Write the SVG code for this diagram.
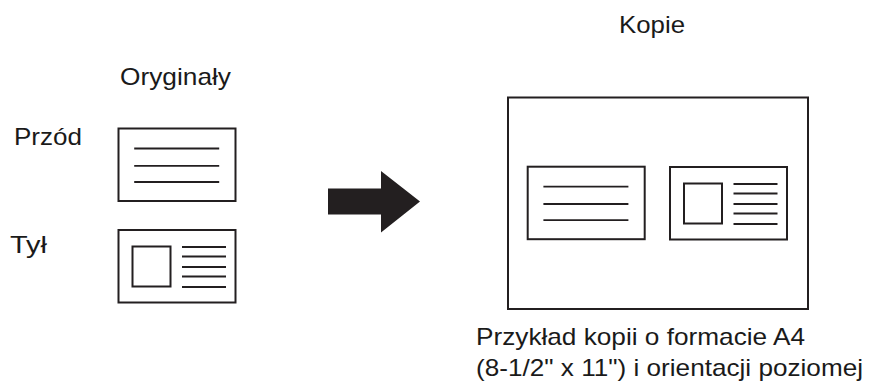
<svg xmlns="http://www.w3.org/2000/svg" xmlns:xlink="http://www.w3.org/1999/xlink" width="870" height="383" viewBox="0 0 870 383">
  <style>
    .lbl { font-family: "Liberation Sans", Arial, Helvetica, sans-serif; font-size: 24px; fill: #1a1a1a; }
    .box { fill: #ffffff; stroke: #231f20; stroke-width: 2; }
    .ln { stroke: #231f20; stroke-width: 1.8; fill: none; }
  </style>
  <defs>
    <g id="cardFront">
      <rect class="box" x="0" y="0" width="117" height="72.5"/>
      <line class="ln" x1="15.7" y1="20" x2="100.7" y2="20"/>
      <line class="ln" x1="15.7" y1="37.3" x2="100.7" y2="37.3"/>
      <line class="ln" x1="15.7" y1="53.5" x2="100.7" y2="53.5"/>
    </g>
    <g id="cardBack">
      <rect class="box" x="0" y="0" width="117" height="72.5"/>
      <rect class="box" x="14" y="16.5" width="38" height="40"/>
      <line class="ln" x1="63.5" y1="17" x2="107.5" y2="17"/>
      <line class="ln" x1="63.5" y1="26.5" x2="107.5" y2="26.5"/>
      <line class="ln" x1="63.5" y1="37" x2="107.5" y2="37"/>
      <line class="ln" x1="63.5" y1="46.5" x2="107.5" y2="46.5"/>
      <line class="ln" x1="63.5" y1="57" x2="107.5" y2="57"/>
    </g>
  </defs>

  <g id="label-originals"><text class="lbl" x="120" y="85" textLength="111" lengthAdjust="spacingAndGlyphs">Oryginały</text></g>
  <g id="label-front"><text class="lbl" x="14" y="145" textLength="68" lengthAdjust="spacingAndGlyphs">Przód</text></g>
  <g id="label-back"><text class="lbl" x="10" y="253" textLength="37" lengthAdjust="spacingAndGlyphs">Tył</text></g>
  <g id="label-copies"><text class="lbl" x="619" y="33" textLength="66" lengthAdjust="spacingAndGlyphs">Kopie</text></g>

  <g id="original-front"><use xlink:href="#cardFront" x="118.5" y="128.5"/></g>
  <g id="original-back"><use xlink:href="#cardBack" x="118.5" y="230"/></g>

  <g id="connectors">
    <polygon points="328,188.5 381,188.5 381,171 420,201.5 381,232.5 381,214.5 328,214.5" fill="#231f20"/>
  </g>

  <g id="copy-page">
    <rect class="box" x="508" y="97.5" width="300" height="211.5"/>
    <use xlink:href="#cardFront" x="527.7" y="166.7"/>
    <use xlink:href="#cardBack" x="670" y="167"/>
  </g>

  <g id="caption">
    <text class="lbl" x="476" y="345" textLength="329" lengthAdjust="spacingAndGlyphs">Przykład kopii o formacie A4</text>
    <text class="lbl" x="476" y="376" textLength="387" lengthAdjust="spacingAndGlyphs">(8-1/2" x 11") i orientacji poziomej</text>
  </g>
</svg>
